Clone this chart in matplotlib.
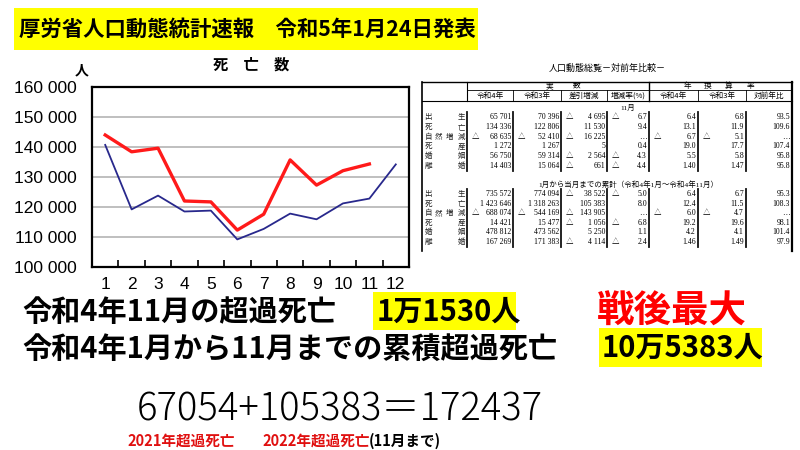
import matplotlib
matplotlib.use("Agg")  # no display
import matplotlib.pyplot as plt
from matplotlib.patches import Rectangle

# ---- chart data (deaths per month) ----
months = [1, 2, 3, 4, 5, 6, 7, 8, 9, 10, 11, 12]
deaths_r4 = [144000, 138400, 139600, 122000, 121700, 112300, 117600, 135700, 127300, 132100, 134336]
deaths_r3 = [140700, 119200, 123800, 118500, 118800, 109200, 112700, 117800, 115900, 121200, 122806, 134200]
y_ticks = [100000, 110000, 120000, 130000, 140000, 150000, 160000]

# ---- table data ----
row_labels = ["出生", "死亡", "自然増減", "死産", "婚姻", "離婚"]
col_headers = ["令和4年", "令和3年", "差引増減", "増減率(%)", "令和4年", "令和3年", "対前年比"]
nov_values = [
    ["65 701", "70 396", "△ 4 695", "△ 6.7", "6.4", "6.8", "93.5"],
    ["134 336", "122 806", "11 530", "9.4", "13.1", "11.9", "109.6"],
    ["△ 68 635", "△ 52 410", "△ 16 225", "…", "△ 6.7", "△ 5.1", "…"],
    ["1 272", "1 267", "5", "0.4", "19.0", "17.7", "107.4"],
    ["56 750", "59 314", "△ 2 564", "△ 4.3", "5.5", "5.8", "95.8"],
    ["14 403", "15 064", "△ 661", "△ 4.4", "1.40", "1.47", "95.8"],
]
cum_values = [
    ["735 572", "774 094", "△ 38 522", "△ 5.0", "6.4", "6.7", "95.3"],
    ["1 423 646", "1 318 263", "105 383", "8.0", "12.4", "11.5", "108.3"],
    ["△ 688 074", "△ 544 169", "△ 143 905", "…", "△ 6.0", "△ 4.7", "…"],
    ["14 421", "15 477", "△ 1 056", "△ 6.8", "19.2", "19.6", "98.1"],
    ["478 812", "473 562", "5 250", "1.1", "4.2", "4.1", "101.4"],
    ["167 269", "171 383", "△ 4 114", "△ 2.4", "1.46", "1.49", "97.9"],
]

JP = ["Noto Sans CJK JP", "DejaVu Sans"]
SERIF = ["Liberation Serif", "Noto Sans CJK JP", "DejaVu Sans"]
plt.rcParams["font.family"] = ["Liberation Sans", "Noto Sans CJK JP", "DejaVu Sans"]

fig = plt.figure(figsize=(8, 4.5), dpi=100)

# ---- line chart ----
ax = fig.add_axes([92 / 800, 1 - 267 / 450, 317 / 800, 180 / 450])
ax.plot(months, deaths_r3, color="#28288c", lw=1.3, zorder=3)
ax.plot(months[:len(deaths_r4)], deaths_r4, color="#ff1a1a", lw=2.4, zorder=4)
ax.set_xlim(0.5, 12.5)
ax.set_ylim(y_ticks[0], y_ticks[-1])
ax.set_yticks(y_ticks)
ax.set_yticklabels([f"{v:,}".replace(",", " ") for v in y_ticks], fontsize=12.5)
ax.set_xticks(months)
ax.set_xticklabels([str(m) for m in months], fontsize=12.5)
ax.set_xticks([m + 0.5 for m in months[:-1]], minor=True)
ax.tick_params(axis="y", length=0, pad=11)
ax.tick_params(axis="x", which="major", length=0, pad=7)
ax.tick_params(axis="x", which="minor", direction="in", length=5, width=1.2)
ax.grid(axis="y", color="#b4b4b4", lw=1.2)
for s in ax.spines.values():
    s.set_linewidth(1.6)

# ---- slide overlay in pixel coordinates ----
ov = fig.add_axes([0, 0, 1, 1], zorder=-1)
ov.set_xlim(0, 800)
ov.set_ylim(450, 0)
ov.axis("off")

ov.add_patch(Rectangle((14, 8), 464, 42, color="#ffff00", lw=0))
ov.text(19, 29, "厚労省人口動態統計速報　令和5年1月24日発表", fontsize=15.4,
        fontweight="bold", family=JP, va="center", ha="left")

ov.text(251, 65, "死　亡　数", fontsize=11, fontweight="bold", family=JP, ha="center", va="center")
ov.text(82, 70, "人", fontsize=10, fontweight="bold", family=JP, ha="center", va="center")

# table
col_edges = [422, 467, 513, 561, 607, 649, 698, 746, 792]
ov.text(607, 68, "人口動態総覧－対前年比較－", fontsize=6.5, family=JP, ha="center", va="center")
ov.plot([422, 792], [82, 82], color="k", lw=1.0)
ov.plot([467, 792], [90, 90], color="k", lw=0.6)
ov.plot([422, 792], [101, 101], color="k", lw=0.8)
ov.plot([422, 422], [82, 251], color="k", lw=1.2)
ov.plot([792, 792], [82, 251], color="k", lw=1.6)
ov.plot([467, 467], [82, 101], color="k", lw=0.8)
ov.plot([649, 649], [82, 101], color="k", lw=1.0)
for x in col_edges[2:-1]:
    ov.plot([x, x], [90, 101], color="k", lw=0.6)
ov.text(549, 86, "実", fontsize=5.5, family=JP, ha="center", va="center")
ov.text(577, 86, "数", fontsize=5.5, family=JP, ha="center", va="center")
for ch, x in zip("年換算率", [687, 708, 729, 750]):
    ov.text(x, 86, ch, fontsize=5.5, family=JP, ha="center", va="center")
for j, h in enumerate(col_headers):
    ov.text((col_edges[j + 1] + col_edges[j + 2]) / 2, 96, h, fontsize=5.5,
            family=JP, ha="center", va="center")

def draw_block(values, y0, step, heading, hy):
    ov.text(628, hy, heading, fontsize=5.4, family=SERIF, ha="center", va="center")
    for i, (lab, vals) in enumerate(zip(row_labels, values)):
        y = y0 + i * step
        n = len(lab)
        for k, ch in enumerate(lab):
            ov.text(428 + k * (33 / (n - 1)), y, ch, fontsize=5.4, family=JP,
                    ha="center", va="center", color="#222222")
        for j, v in enumerate(vals):
            left, right = col_edges[j + 1], col_edges[j + 2]
            if v.startswith("△"):
                ov.text(left + 9, y, "△", fontsize=5.4, family=SERIF, ha="center", va="center")
                v = v[1:].strip()
            ov.text(right - 2, y, v, fontsize=5.6, family=SERIF, ha="right", va="center")
    top, bot = y0 - step / 2, y0 + (len(values) - 0.5) * step
    for x in col_edges[1:-1]:
        ov.plot([x, x], [top, bot], color="#111111", lw=1.3)

draw_block(nov_values, 117, 9.8, "11月", 107)
draw_block(cum_values, 194, 9.6, "1月から当月までの累計（令和4年1月～令和4年11月）", 184)

# statements
ov.text(22, 312, "令和4年11月の超過死亡", fontsize=21, fontweight="bold", family=JP, va="center")
ov.add_patch(Rectangle((373, 292), 143, 38, color="#ffff00", lw=0))
ov.text(377, 312, "1万1530人", fontsize=21, fontweight="bold", family=JP, va="center")
ov.text(597, 311, "戦後最大", fontsize=27, fontweight="bold", family=JP, va="center", color="#ff0000")
ov.text(22, 349, "令和4年1月から11月までの累積超過死亡", fontsize=21, fontweight="bold",
        family=JP, va="center")
ov.add_patch(Rectangle((599, 328), 163, 39, color="#ffff00", lw=0))
ov.text(602, 348, "10万5383人", fontsize=21, fontweight="bold", family=JP, va="center")

ov.text(137, 410, "67054+105383＝172437", fontsize=27.5, fontweight="light", family=JP, va="center")
ov.text(127, 441, "2021年超過死亡", fontsize=10.5, fontweight="bold", family=JP, va="center", color="#e01010")
ov.text(262, 441, "2022年超過死亡", fontsize=10.5, fontweight="bold", family=JP, va="center", color="#e01010")
ov.text(369, 441, "(11月まで)", fontsize=10.5, fontweight="bold", family=JP, va="center", color="k")

fig.savefig("out.png", dpi=100)
